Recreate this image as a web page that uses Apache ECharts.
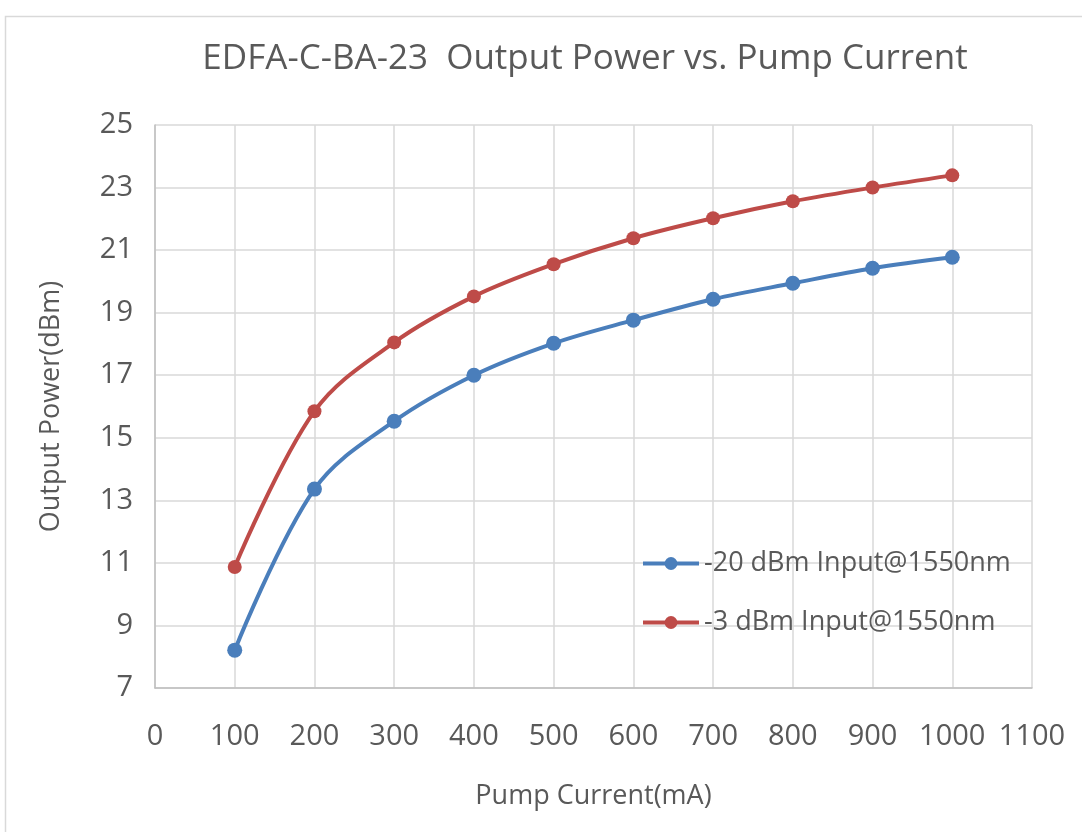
<!DOCTYPE html>
<html>
<head>
<meta charset="utf-8">
<script src="https://cdn.jsdelivr.net/npm/echarts@6/dist/echarts.min.js"></script>
<style>html,body{margin:0;padding:0;background:#fff}#c{width:1082px;height:832px}</style>
</head>
<body>
<div id="c"></div>
<script>
const pumpCurrent = [100, 200, 300, 400, 500, 600, 700, 800, 900, 1000];
const seriesNames = ['-20 dBm Input@1550nm', '-3 dBm Input@1550nm'];
const inputMinus20 = [8.21, 13.36, 15.53, 17.0, 18.02, 18.76, 19.43, 19.94, 20.42, 20.77];
const inputMinus3 = [10.87, 15.85, 18.05, 19.52, 20.55, 21.38, 22.02, 22.56, 23.0, 23.39];
const titleText = 'EDFA-C-BA-23  Output Power vs. Pump Current';

const font = 'Open Sans';
const chart = echarts.init(document.getElementById('c'));
const mk = (xs, ys) => xs.map((x, i) => [x, ys[i]]);
chart.setOption({
  backgroundColor: '#fff',
  animation: false,
  graphic: [{
    type: 'rect', shape: { x: 5.5, y: 16.5, width: 1090, height: 830 },
    style: { fill: 'none', stroke: '#d9d9d9', lineWidth: 1.5 }, silent: true
  }],
  title: {
    text: titleText, left: 580, top: 37, textAlign: 'center',
    textStyle: { fontFamily: font, fontSize: 35, fontWeight: 'normal', color: '#595959' }
  },
  grid: { left: 155, right: 50, top: 125, bottom: 144 },
  legend: {
    orient: 'vertical', left: 636, top: 545, itemGap: 32, itemWidth: 56, itemHeight: 16,
    lineStyle: { width: 4 },
    textStyle: { fontFamily: font, fontSize: 27, color: '#595959' },
    data: seriesNames
  },
  xAxis: {
    type: 'value', min: 0, max: 1100, interval: 100,
    name: 'Pump Current(mA)', nameLocation: 'middle', nameGap: 95,
    nameTextStyle: { fontFamily: font, fontSize: 27, color: '#595959' },
    axisLine: { show: true, lineStyle: { color: '#bfbfbf', width: 1.5 } },
    axisTick: { show: false },
    axisLabel: { fontFamily: font, fontSize: 29, color: '#595959', margin: 34, formatter: v => String(v) },
    splitLine: { show: true, lineStyle: { color: '#d9d9d9', width: 1.5 } }
  },
  yAxis: {
    type: 'value', min: 7, max: 25, interval: 2,
    name: 'Output Power(dBm)', nameLocation: 'middle', nameGap: 90,
    nameTextStyle: { fontFamily: font, fontSize: 27, color: '#595959' },
    axisLine: { show: true, lineStyle: { color: '#bfbfbf', width: 1.5 } },
    axisTick: { show: false },
    axisLabel: { fontFamily: font, fontSize: 29, color: '#595959', margin: 22 },
    splitLine: { show: true, lineStyle: { color: '#d9d9d9', width: 1.5 } }
  },
  series: [
    {
      name: seriesNames[0], type: 'line', smooth: 0.35, data: mk(pumpCurrent, inputMinus20),
      symbol: 'circle', symbolSize: 15,
      lineStyle: { color: '#4a7ebb', width: 4 }, itemStyle: { color: '#4a7ebb' }
    },
    {
      name: seriesNames[1], type: 'line', smooth: 0.35, data: mk(pumpCurrent, inputMinus3),
      symbol: 'circle', symbolSize: 14,
      lineStyle: { color: '#be4b48', width: 4 }, itemStyle: { color: '#be4b48' }
    }
  ]
});
</script>
</body>
</html>
